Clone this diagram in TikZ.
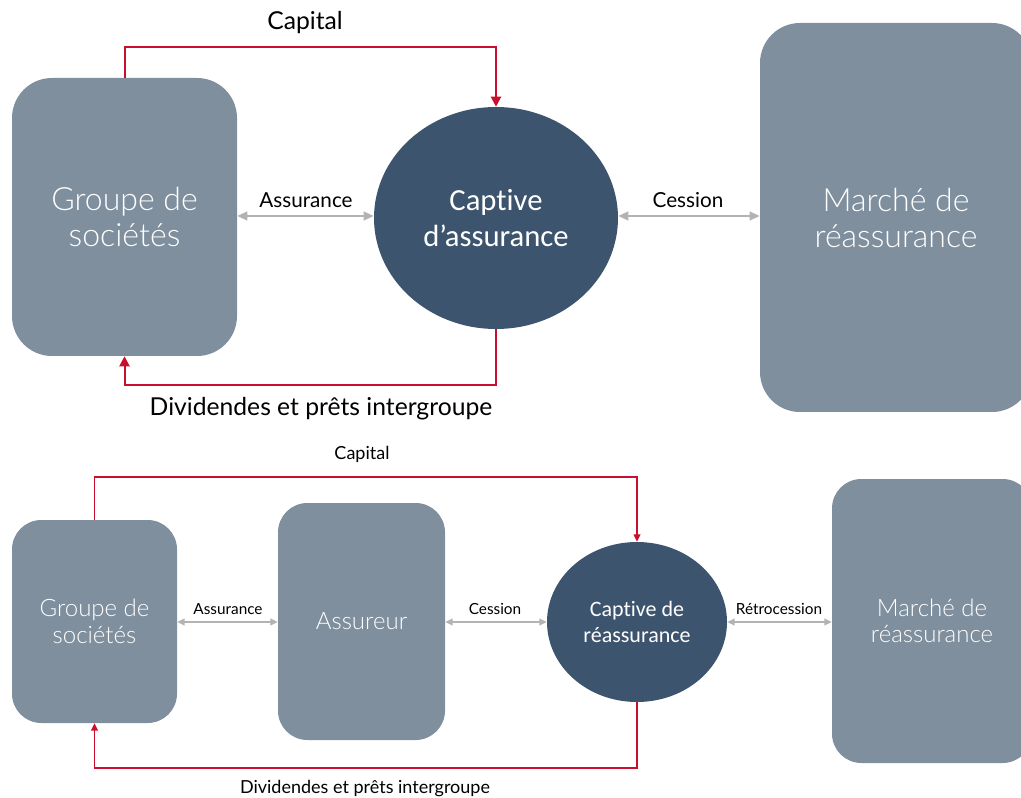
\documentclass[tikz,border=0pt]{standalone}
\usepackage{fontspec}
\setmainfont{Lato}
\newfontfamily\lightfont{Lato Light}
\newfontfamily\capfont[Ligatures=NoCommon]{Carlito}
\usetikzlibrary{arrows.meta,shapes.geometric}
\definecolor{boxgray}{HTML}{808F9E}
\definecolor{capblue}{HTML}{3D546E}
\definecolor{redline}{HTML}{C8102E}
\definecolor{arrgray}{HTML}{B3B3B3}
\tikzset{
  gbox/.style={fill=boxgray, draw=none, rounded corners=30pt, text=white, align=center, font=\lightfont\fontsize{24}{27}\selectfont, inner sep=0pt},
  gboxs/.style={gbox, rounded corners=22pt, font=\lightfont\fontsize{18}{20}\selectfont},
  capell/.style={ellipse, fill=capblue, draw=none, text=white, align=center, font=\capfont\fontsize{23}{27.5}\selectfont, inner sep=0pt},
  capells/.style={capell, font=\capfont\fontsize{16.5}{20}\selectfont},
  redarr/.style={draw=redline, line width=1.5pt, -{Triangle[length=7.5pt,width=7.5pt]}},
  redarrs/.style={draw=redline, line width=1.1pt, -{Triangle[length=5.5pt,width=5pt]}},
  grayarr/.style={draw=arrgray, line width=1.5pt, {Triangle[length=7.5pt,width=6.5pt]}-{Triangle[length=7.5pt,width=6.5pt]}},
  grayarrs/.style={draw=arrgray, line width=1.1pt, {Triangle[length=5.5pt,width=5pt]}-{Triangle[length=5.5pt,width=5pt]}},
  lab/.style={text=black, font=\fontsize{15.5}{18}\selectfont, inner sep=0pt},
  labbig/.style={text=black, font=\fontsize{18.5}{22}\selectfont, inner sep=0pt},
  labs/.style={text=black, font=\fontsize{11.5}{14}\selectfont, inner sep=0pt},
  labm/.style={text=black, font=\fontsize{13.5}{16}\selectfont, inner sep=0pt},
}
\begin{document}
\begin{tikzpicture}[x=0.75pt,y=-0.75pt]
\useasboundingbox (0,0) rectangle (1021,798);
% ---------- top ----------
\node[gbox, minimum width=168.75pt, minimum height=208.5pt] (g1) at (124.5,217) {Groupe de\\sociétés};
\node[capell, minimum width=183pt, minimum height=166.5pt] (c1) at (496,218) {Captive\\d’assurance};
\node[gbox, minimum width=204pt, minimum height=291.75pt] (m1) at (896,217.5) {Marché de\\réassurance};
\draw[redarr] (g1.north) -- (g1.north |- 0,47) -| (c1.north);
\draw[redarr] (c1.south) -- (c1.south |- 0,385) -| (g1.south);
\draw[grayarr] (g1.east |- 0,216) -- (c1.west |- 0,216);
\draw[grayarr] (c1.east |- 0,216) -- (m1.west |- 0,216);
\node[labbig] (cap1) at (305,23) {Capital};
\node[labbig] (div1) at (321,409) {Dividendes et prêts intergroupe};
\node[lab] (ass1) at (306,200) {Assurance};
\node[lab] (ces1) at (688,200) {Cession};
% ---------- bottom ----------
\node[gboxs, minimum width=123.75pt, minimum height=152.25pt] (g2) at (94.5,621.5) {Groupe de\\sociétés};
\node[gboxs, minimum width=125.25pt, minimum height=177.75pt] (a2) at (361.5,621.5) {Assureur};
\node[capells, minimum width=135pt, minimum height=120pt] (c2) at (637,622) {Captive de\\réassurance};
\node[gboxs, minimum width=150pt, minimum height=213pt] (m2) at (932,621) {Marché de\\réassurance};
\draw[redarrs] (g2.north) -- (g2.north |- 0,477) -| (c2.north);
\draw[redarrs] (c2.south) -- (c2.south |- 0,768) -| (g2.south);
\draw[grayarrs] (g2.east |- 0,622) -- (a2.west |- 0,622);
\draw[grayarrs] (a2.east |- 0,622) -- (c2.west |- 0,622);
\draw[grayarrs] (c2.east |- 0,622) -- (m2.west |- 0,622);
\node[labm] (cap2) at (362,454) {Capital};
\node[labm] (div2) at (365,789) {Dividendes et prêts intergroupe};
\node[labs] (ass2) at (228,609) {Assurance};
\node[labs] (ces2) at (495,609) {Cession};
\node[labs] (ret2) at (779,609) {Rétrocession};
\end{tikzpicture}
\end{document}
